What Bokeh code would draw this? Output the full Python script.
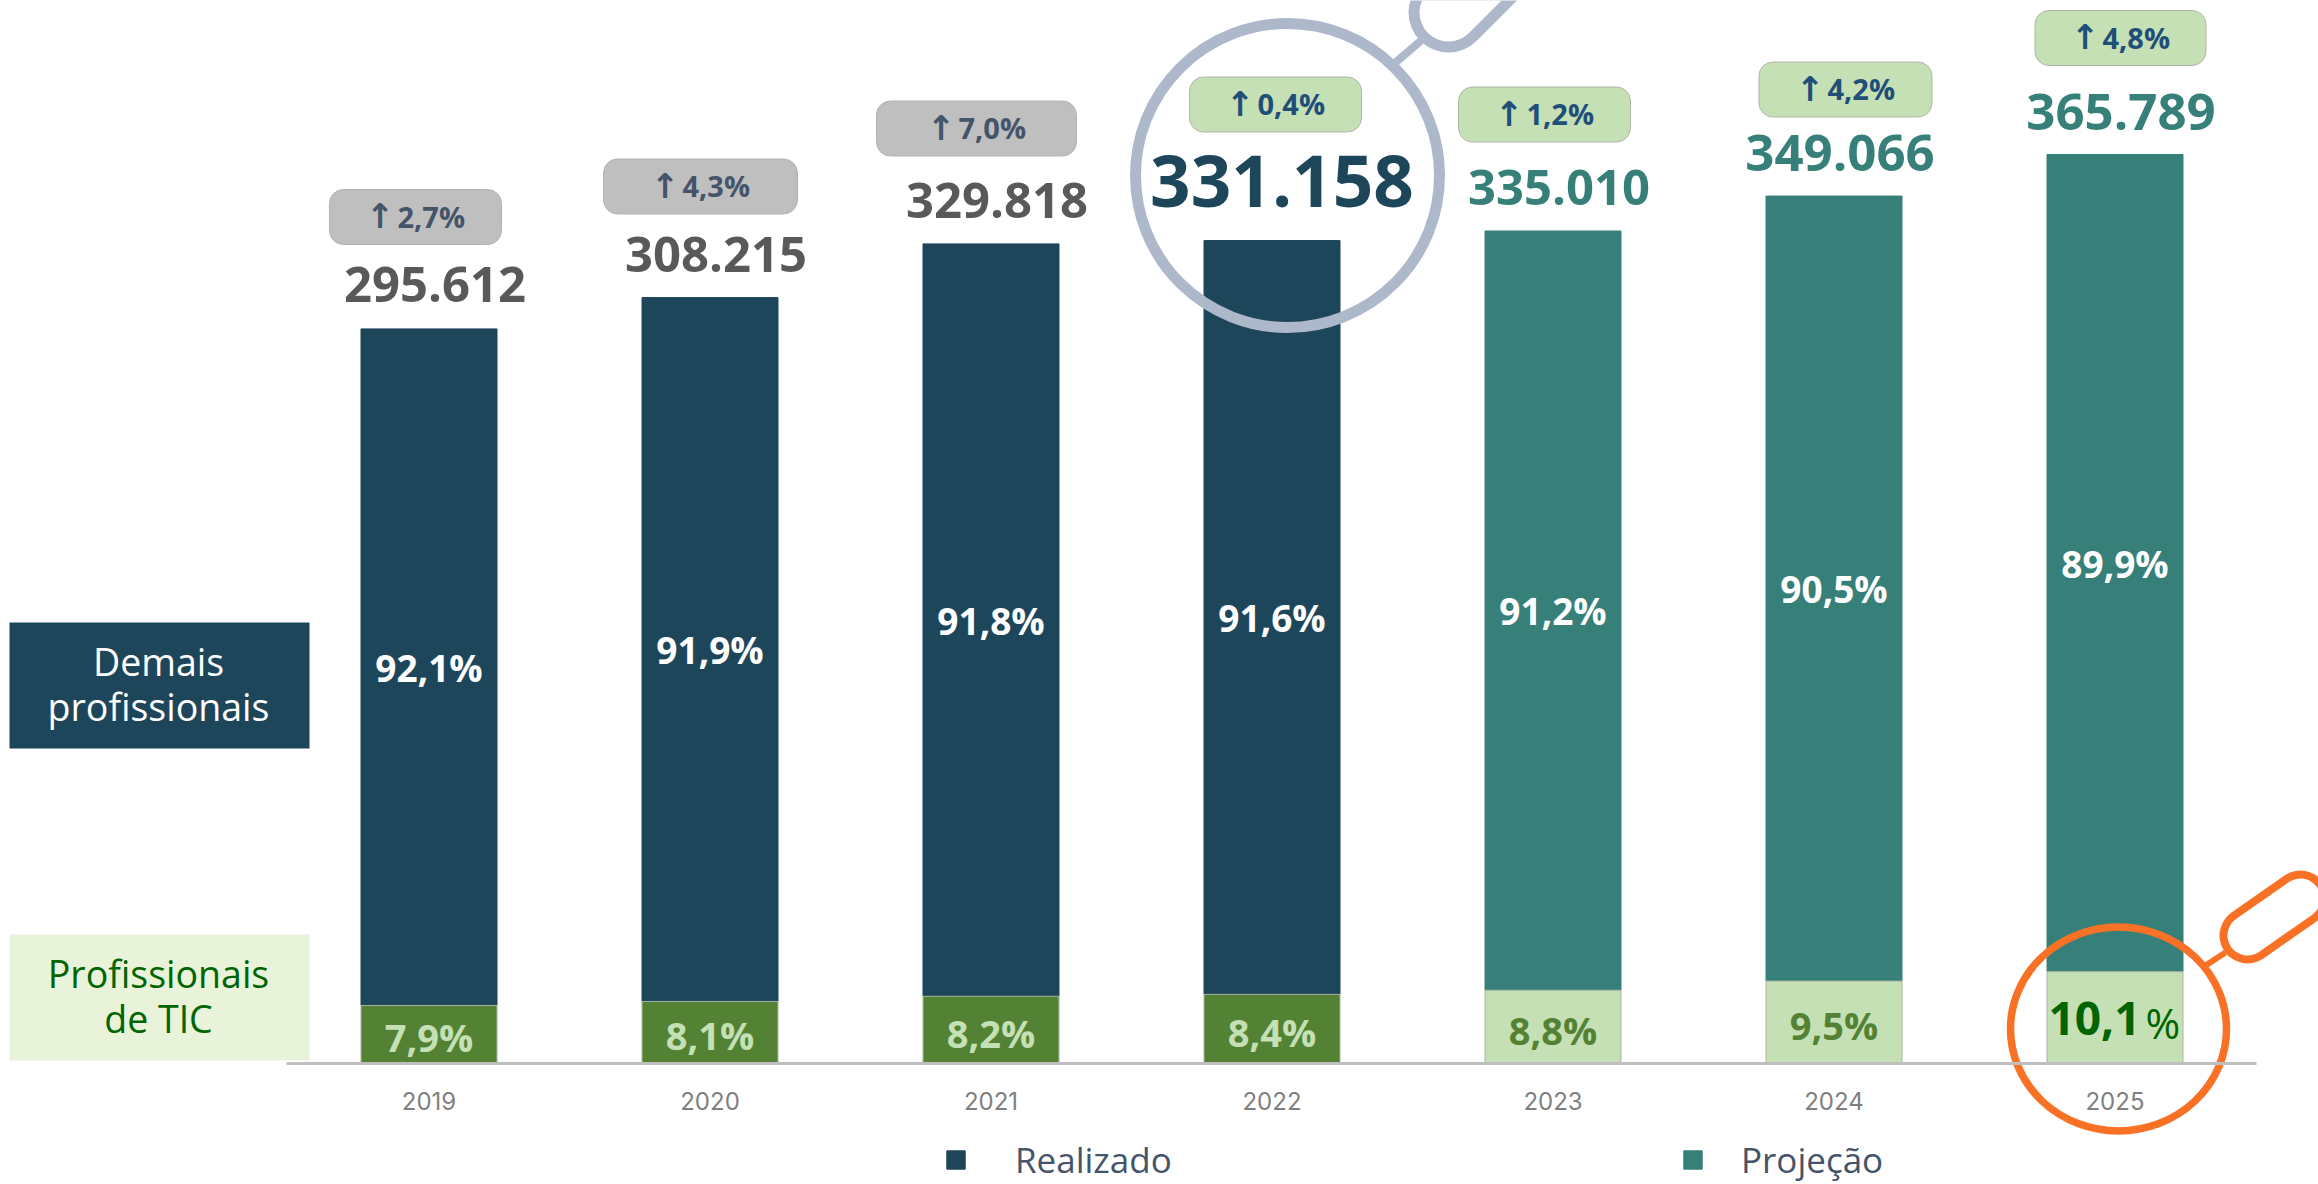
from bokeh.plotting import figure
from bokeh.embed import file_html
from bokeh.resources import INLINE
from bokeh.core.properties import value
from bokeh.models import FixedTicker, Legend, LegendItem, BasicTickFormatter

# ---------- data ----------
years = [2019, 2020, 2021, 2022, 2023, 2024, 2025]
totals = [295612, 308215, 329818, 331158, 335010, 349066, 365789]
total_labels = ["295.612", "308.215", "329.818", "331.158", "335.010", "349.066", "365.789"]
share_tic = [7.9, 8.1, 8.2, 8.4, 8.8, 9.5, 10.1]
share_tic_labels = ["7,9%", "8,1%", "8,2%", "8,4%", "8,8%", "9,5%", "10,1"]
share_other_labels = ["92,1%", "91,9%", "91,8%", "91,6%", "91,2%", "90,5%", "89,9%"]
growth_labels = ["2,7%", "4,3%", "7,0%", "0,4%", "1,2%", "4,2%", "4,8%"]

# ---------- colours ----------
NAVY, TEAL, GREY_TXT = "#1E465B", "#37807A", "#595959"
DKGREEN, LTGREEN, PALE = "#548235", "#C5E0B4", "#E8F3DA"
BLUE_RING, ORANGE = "#ADB9CA", "#F97125"
actual = [y <= 2022 for y in years]
grey_badge = [y <= 2021 for y in years]

# ---------- page geometry (page pixels -> data coordinates) ----------
W, H = 2318, 1184
BASE_PY, PX_PER_UNIT = 1063, 909 / 365789
X0_PX, PX_PER_YEAR = 428.5, 281
def X(px): return 2019 + (px - X0_PX) / PX_PER_YEAR
def Y(py): return (BASE_PY - py) / PX_PER_UNIT

BAR_W = 136 / PX_PER_YEAR
badge_cx = [415, 700, 976, 1275, 1544, 1845, 2120]
badge_cy = [216.5, 186, 128, 104, 114, 89, 37.5]
badge_w = [172, 194, 200, 172, 172, 173, 171]
BADGE_H = 55
total_cy = [284, 254, 200, 180, 187, 152, 111]
total_size = ["49px", "49px", "49px", "71px", "49px", "51px", "51px"]
total_dx = [6, 6, 6, 10, 6, 6, 6]

p = figure(width=W, height=H, output_backend="svg", toolbar_location=None,
           x_range=(X(0), X(W)), y_range=(Y(H), Y(0)),
           y_axis_location=None, min_border=0, outline_line_color=None)
p.grid.visible = False
p.background_fill_color = "white"

# side boxes
p.quad(left=[X(9), X(9)], right=[X(309), X(309)], top=[Y(622), Y(934)], bottom=[Y(748), Y(1060)],
       fill_color=[NAVY, PALE], line_color=None)

# axis
ax = p.xaxis[0]
ax.fixed_location = 0
ax.bounds = (X(286), X(2256))
ax.ticker = FixedTicker(ticks=years)
ax.formatter = BasicTickFormatter(use_scientific=False, precision=0)
ax.axis_line_color = "#BFBFBF"
ax.axis_line_width = 3
ax.major_tick_line_color = None
ax.minor_tick_line_color = None
ax.major_label_text_font = "Inter"
ax.major_label_text_font_size = "24px"
ax.major_label_text_color = "#7F7F7F"
ax.major_label_standoff = 22

# bars
tic = [t * s / 100 for t, s in zip(totals, share_tic)]
idx_a = [i for i, a in enumerate(actual) if a]
idx_p = [i for i, a in enumerate(actual) if not a]
def bars(idx, color, tic_color):
    r = p.vbar(x=[years[i] for i in idx], width=BAR_W, bottom=[tic[i] for i in idx],
               top=[totals[i] for i in idx], fill_color=color, line_color=color)
    p.vbar(x=[years[i] for i in idx], width=BAR_W, bottom=0, top=[tic[i] for i in idx],
           fill_color=tic_color, line_color="#A9B5A0", line_width=1)
    return r
r_real = bars(idx_a, NAVY, DKGREEN)
r_proj = bars(idx_p, TEAL, LTGREEN)

# growth badges and totals
for i, yr in enumerate(years):
    grey = grey_badge[i]
    p.quad(left=X(badge_cx[i] - badge_w[i] / 2), right=X(badge_cx[i] + badge_w[i] / 2),
           top=Y(badge_cy[i] - BADGE_H / 2), bottom=Y(badge_cy[i] + BADGE_H / 2),
           fill_color="#BFBFBF" if grey else LTGREEN, line_color="#B0B5AC", line_width=1, border_radius=14)
    tcol = "#44546A" if grey else "#1F4E79"
    p.text(x=[X(badge_cx[i] - 21)], y=[Y(badge_cy[i] - 1)], text=["↑"],
           text_font=value("DejaVu Sans"), text_font_size="34px", text_font_style="bold",
           text_color=tcol, text_align="right", text_baseline="middle")
    p.text(x=[X(badge_cx[i] - 18)], y=[Y(badge_cy[i] - 1)], text=[growth_labels[i]],
           text_font=value("Open Sans"), text_font_size="29px", text_font_style="bold",
           text_color=tcol, text_align="left", text_baseline="middle")
    colr = NAVY if yr == 2022 else (GREY_TXT if actual[i] else TEAL)
    p.text(x=[X(X0_PX + (yr - 2019) * PX_PER_YEAR + total_dx[i])],
           y=[Y(total_cy[i])], text=[total_labels[i]],
           text_font=value("Open Sans"), text_font_size=total_size[i], text_font_style="bold",
           text_color=colr, text_align="center", text_baseline="middle")

# share labels
p.text(x=years, y=[(t + c) / 2 for t, c in zip(totals, tic)], text=share_other_labels,
       text_font=value("Open Sans"), text_font_size="37px", text_font_style="bold",
       text_color="white", text_align="center", text_baseline="middle")
for i, yr in enumerate(years[:-1]):
    p.text(x=[yr], y=[tic[i] / 2 - 3 / PX_PER_UNIT], text=[share_tic_labels[i]],
           text_font=value("Open Sans"), text_font_size="38px", text_font_style="bold",
           text_color=LTGREEN if actual[i] else DKGREEN, text_align="center", text_baseline="middle")
p.text(x=[X(2140)], y=[Y(1018)], text=[share_tic_labels[-1]],
       text_font=value("Open Sans"), text_font_size="46px", text_font_style="bold",
       text_color="#006400", text_align="right", text_baseline="middle")
p.text(x=[X(2145)], y=[Y(1022)], text=["%"],
       text_font=value("Open Sans"), text_font_size="42px",
       text_color="#006400", text_align="left", text_baseline="middle")

# side box texts
for txt, py, col in [("Demais", 661, "white"), ("profissionais", 706, "white"),
                     ("Profissionais", 973, "#006400"), ("de TIC", 1018, "#006400")]:
    p.text(x=[X(158)], y=[Y(py)], text=[txt], text_font=value("Open Sans"), text_font_size="37.5px",
           text_color=col, text_align="center", text_baseline="middle")

# magnifier, blue
p.ellipse(x=[X(1287)], y=[Y(175)], width=304, height=304, width_units="screen", height_units="screen",
          fill_color=None, line_color=BLUE_RING, line_width=11)
p.line([X(1395), X(1423)], [Y(62), Y(38)], line_color=BLUE_RING, line_width=8)
p.line([X(1448), X(1520)], [Y(12), Y(-60)], line_color=BLUE_RING, line_width=80, line_cap="round")
p.line([X(1448), X(1520)], [Y(12), Y(-60)], line_color="white", line_width=58, line_cap="round")

# magnifier, orange
p.ellipse(x=[X(2118)], y=[Y(1028.5)], width=216, height=204, width_units="screen", height_units="screen",
          fill_color=None, line_color=ORANGE, line_width=7.5)
p.line([X(2205), X(2225)], [Y(965), Y(952)], line_color=ORANGE, line_width=6)
p.line([X(2247), X(2300)], [Y(935), Y(898)], line_color=ORANGE, line_width=56, line_cap="round")
p.line([X(2247), X(2300)], [Y(935), Y(898)], line_color="white", line_width=40, line_cap="round")

# legends
def legend(label, renderer, x, standoff):
    leg = Legend(items=[LegendItem(label=label, renderers=[renderer])],
                 orientation="horizontal", location=(x, 1), glyph_width=23, glyph_height=23,
                 label_standoff=standoff, padding=0, margin=0,
                 border_line_color=None, background_fill_alpha=0,
                 label_text_font="Open Sans", label_text_font_size="35px", label_text_color="#44546A")
    p.add_layout(leg, "center")
legend("Realizado", r_real, 944, 48)
legend("Projeção", r_proj, 1681, 37)

open("out.html", "w").write(file_html(p, INLINE))
